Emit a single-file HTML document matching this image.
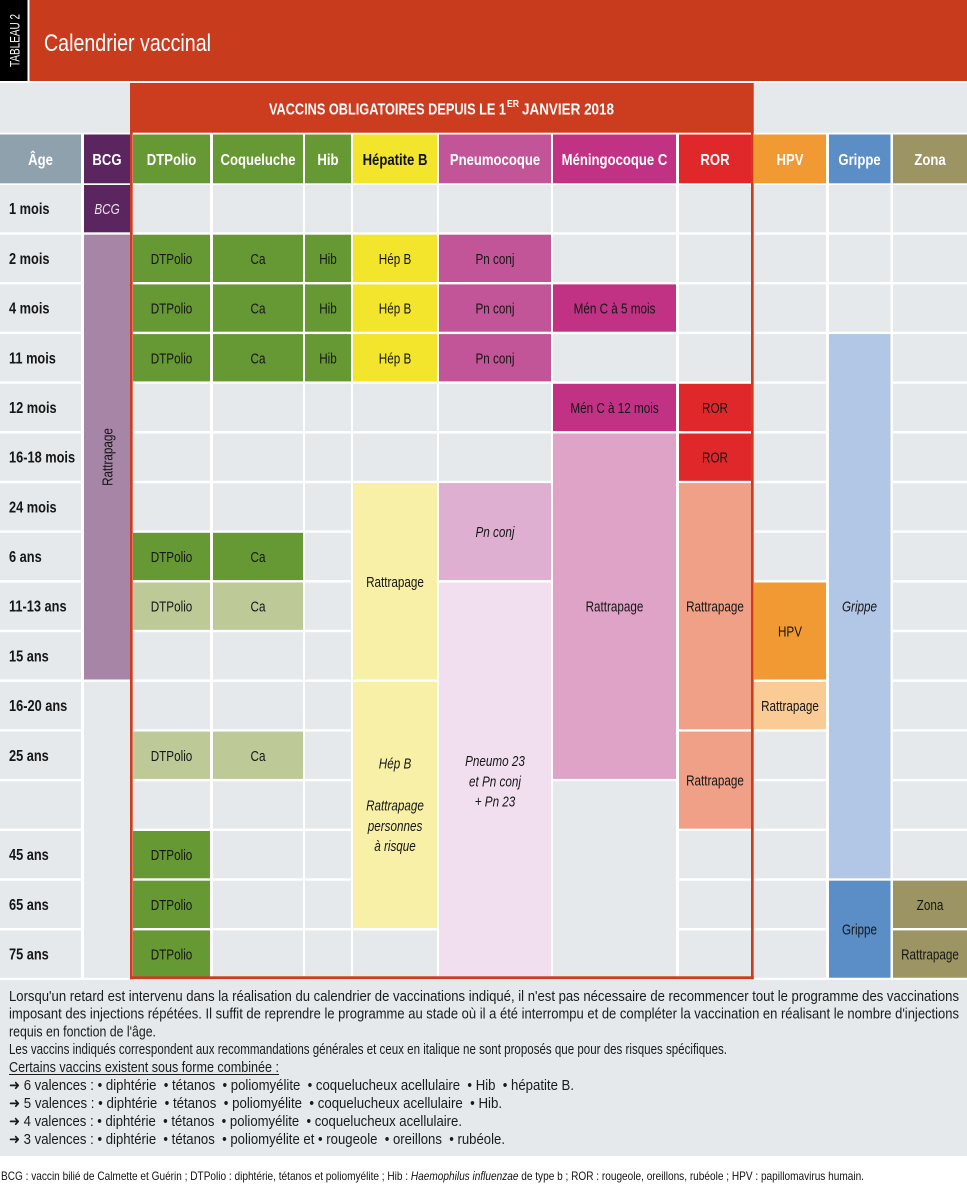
<!DOCTYPE html>
<html><head><meta charset="utf-8"><style>
html,body{margin:0;padding:0;background:#fff;overflow:hidden}
svg{display:block}
.c{font-size:15px;fill:#161616;text-anchor:middle}
.ci{font-size:15px;fill:#161616;text-anchor:middle;font-style:italic}
.h{font-size:16px;font-weight:bold;fill:#fff;text-anchor:middle}
.l{font-size:16px;font-weight:bold;fill:#161616}
.f{font-size:14.5px;fill:#1a1a1a}
.p{white-space:pre}
text{font-family:"Liberation Sans","DejaVu Sans",sans-serif}
</style></head><body>
<svg width="967" height="1190" viewBox="0 0 967 1190" xmlns="http://www.w3.org/2000/svg">
<rect x="0" y="0" width="967" height="1190" fill="#fff"/>
<!-- title -->
<rect x="0" y="0" width="27.5" height="81" fill="#000"/>
<rect x="29.5" y="0" width="937.5" height="81" fill="#c93b1d"/>
<text transform="translate(19.5,67) rotate(-90)" x="0" y="0" font-size="13.5" fill="#fff" textLength="53" lengthAdjust="spacingAndGlyphs">TABLEAU 2</text>
<text x="44" y="51" font-size="24" fill="#fff" textLength="167" lengthAdjust="spacingAndGlyphs">Calendrier vaccinal</text>
<!-- top band -->
<rect x="0" y="83" width="130" height="49.7" fill="#e5e9ec"/>
<rect x="754" y="83" width="213" height="49.7" fill="#e5e9ec"/>
<rect x="130" y="83" width="623.6" height="49.7" fill="#cc3d1f"/>
<text x="269" y="114.5" font-size="16" font-weight="bold" fill="#fff" textLength="237" lengthAdjust="spacingAndGlyphs">VACCINS OBLIGATOIRES DEPUIS LE 1</text>
<text x="507" y="107" font-size="10" font-weight="bold" fill="#fff" textLength="12" lengthAdjust="spacingAndGlyphs">ER</text>
<text x="522" y="114.5" font-size="16" font-weight="bold" fill="#fff" textLength="92" lengthAdjust="spacingAndGlyphs">JANVIER 2018</text>
<!-- header row -->
<rect x="0" y="134.5" width="81" height="48.8" fill="#8fa1ad"/>
<rect x="84" y="134.5" width="46" height="48.8" fill="#5b2560"/>
<rect x="133" y="134.5" width="77" height="48.8" fill="#669834"/>
<rect x="213" y="134.5" width="90" height="48.8" fill="#669834"/>
<rect x="305" y="134.5" width="46" height="48.8" fill="#669834"/>
<rect x="353" y="134.5" width="84" height="48.8" fill="#f2e52c"/>
<rect x="439" y="134.5" width="112" height="48.8" fill="#c25597"/>
<rect x="553" y="134.5" width="123" height="48.8" fill="#c13285"/>
<rect x="679" y="134.5" width="72" height="48.8" fill="#e0282b"/>
<rect x="754" y="134.5" width="72" height="48.8" fill="#f19933"/>
<rect x="829" y="134.5" width="61.5" height="48.8" fill="#5b8dc6"/>
<rect x="893" y="134.5" width="74" height="48.8" fill="#9c9563"/>
<g class="h">
<text transform="translate(40.5,164.8) scale(.82,1)">Âge</text>
<text transform="translate(107,164.8) scale(.82,1)">BCG</text>
<text transform="translate(171.5,164.8) scale(.82,1)">DTPolio</text>
<text transform="translate(258,164.8) scale(.82,1)">Coqueluche</text>
<text transform="translate(328,164.8) scale(.82,1)">Hib</text>
<text transform="translate(395,164.8) scale(.82,1)" style="fill:#111">Hépatite B</text>
<text transform="translate(495,164.8) scale(.82,1)">Pneumocoque</text>
<text transform="translate(614.5,164.8) scale(.82,1)">Méningocoque C</text>
<text transform="translate(715,164.8) scale(.82,1)">ROR</text>
<text transform="translate(790,164.8) scale(.82,1)">HPV</text>
<text transform="translate(859.5,164.8) scale(.82,1)">Grippe</text>
<text transform="translate(930,164.8) scale(.82,1)">Zona</text>
</g>
<!-- gray columns -->
<g fill="#e5e9ec">
<rect x="0" y="185" width="81" height="792.7"/>
<rect x="84" y="185" width="46" height="792.7"/>
<rect x="133" y="185" width="77" height="792.7"/>
<rect x="213" y="185" width="90" height="792.7"/>
<rect x="305" y="185" width="46" height="792.7"/>
<rect x="353" y="185" width="84" height="792.7"/>
<rect x="439" y="185" width="112" height="792.7"/>
<rect x="553" y="185" width="123" height="792.7"/>
<rect x="679" y="185" width="72" height="792.7"/>
<rect x="754" y="185" width="72" height="792.7"/>
<rect x="829" y="185" width="61.5" height="792.7"/>
<rect x="893" y="185" width="74" height="792.7"/>
</g>
<!-- row gaps -->
<g fill="#fff">
<rect x="0" y="232.3" width="967" height="2.4"/>
<rect x="0" y="282.0" width="967" height="2.4"/>
<rect x="0" y="331.7" width="967" height="2.4"/>
<rect x="0" y="381.4" width="967" height="2.4"/>
<rect x="0" y="431.1" width="967" height="2.4"/>
<rect x="0" y="480.8" width="967" height="2.4"/>
<rect x="0" y="530.4" width="967" height="2.4"/>
<rect x="0" y="580.1" width="967" height="2.4"/>
<rect x="0" y="629.8" width="967" height="2.4"/>
<rect x="0" y="679.5" width="967" height="2.4"/>
<rect x="0" y="729.2" width="967" height="2.4"/>
<rect x="0" y="778.9" width="967" height="2.4"/>
<rect x="0" y="828.6" width="967" height="2.4"/>
<rect x="0" y="878.3" width="967" height="2.4"/>
<rect x="0" y="928.0" width="967" height="2.4"/>
</g>
<!-- BCG -->
<rect x="84" y="185" width="46" height="47.3" fill="#5b2560"/>
<rect x="84" y="234.7" width="46" height="444.8" fill="#a785a7"/>
<rect x="84" y="681.9" width="46" height="295.8" fill="#e5e9ec"/>
<!-- DTPolio -->
<g fill="#669834">
<rect x="133" y="234.7" width="77" height="47.3"/>
<rect x="133" y="284.4" width="77" height="47.3"/>
<rect x="133" y="334.1" width="77" height="47.3"/>
<rect x="133" y="532.8" width="77" height="47.3"/>
<rect x="133" y="831.0" width="77" height="47.3"/>
<rect x="133" y="880.7" width="77" height="47.3"/>
<rect x="133" y="930.4" width="77" height="47.3"/>
<rect x="213" y="234.7" width="90" height="47.3"/>
<rect x="213" y="284.4" width="90" height="47.3"/>
<rect x="213" y="334.1" width="90" height="47.3"/>
<rect x="213" y="532.8" width="90" height="47.3"/>
<rect x="305" y="234.7" width="46" height="47.3"/>
<rect x="305" y="284.4" width="46" height="47.3"/>
<rect x="305" y="334.1" width="46" height="47.3"/>
</g>
<g fill="#bdca98">
<rect x="133" y="582.5" width="77" height="47.3"/>
<rect x="133" y="731.6" width="77" height="47.3"/>
<rect x="213" y="582.5" width="90" height="47.3"/>
<rect x="213" y="731.6" width="90" height="47.3"/>
</g>
<!-- Hep B -->
<g fill="#f2e52c">
<rect x="353" y="234.7" width="84" height="47.3"/>
<rect x="353" y="284.4" width="84" height="47.3"/>
<rect x="353" y="334.1" width="84" height="47.3"/>
</g>
<rect x="353" y="483.1" width="84" height="196.4" fill="#f8f0a6"/>
<rect x="353" y="681.9" width="84" height="246.1" fill="#f8f0a6"/>
<!-- Pneumo -->
<g fill="#c25597">
<rect x="439" y="234.7" width="112" height="47.3"/>
<rect x="439" y="284.4" width="112" height="47.3"/>
<rect x="439" y="334.1" width="112" height="47.3"/>
</g>
<rect x="439" y="483.1" width="112" height="97" fill="#dfafd2"/>
<rect x="439" y="582.5" width="112" height="395.2" fill="#f1dff0"/>
<!-- Meningo -->
<rect x="553" y="284.4" width="123" height="47.3" fill="#c13285"/>
<rect x="553" y="383.8" width="123" height="47.3" fill="#c13285"/>
<rect x="553" y="433.5" width="123" height="345.4" fill="#dfa3c7"/>
<rect x="553" y="781.3" width="123" height="196.4" fill="#e5e9ec"/>
<!-- ROR -->
<rect x="679" y="383.8" width="72" height="47.3" fill="#e0282b"/>
<rect x="679" y="433.5" width="72" height="47.3" fill="#e0282b"/>
<rect x="679" y="483.1" width="72" height="246.1" fill="#f0a087"/>
<rect x="679" y="731.6" width="72" height="97" fill="#f0a087"/>
<!-- HPV -->
<rect x="754" y="582.5" width="72" height="97" fill="#f19933"/>
<rect x="754" y="681.9" width="72" height="47.3" fill="#fbcb96"/>
<!-- Grippe -->
<rect x="829" y="334.1" width="61.5" height="544.2" fill="#b2c6e6"/>
<rect x="829" y="880.7" width="61.5" height="97" fill="#5b8dc6"/>
<!-- Zona -->
<rect x="893" y="880.7" width="74" height="47.3" fill="#9c9563"/>
<rect x="893" y="930.4" width="74" height="47.3" fill="#9c9563"/>
<!-- frame -->
<g fill="#cc3d1f">
<rect x="130" y="83" width="2.7" height="896.3"/>
<rect x="751" y="83" width="2.7" height="896.3"/>
<rect x="130" y="976.3" width="623.7" height="2.9"/>
</g>
<!-- row labels -->
<g class="l">
<text transform="translate(9,214.2) scale(.8,1)">1 mois</text>
<text transform="translate(9,263.9) scale(.8,1)">2 mois</text>
<text transform="translate(9,313.6) scale(.8,1)">4 mois</text>
<text transform="translate(9,363.3) scale(.8,1)">11 mois</text>
<text transform="translate(9,413.0) scale(.8,1)">12 mois</text>
<text transform="translate(9,462.7) scale(.8,1)">16-18 mois</text>
<text transform="translate(9,512.3) scale(.8,1)">24 mois</text>
<text transform="translate(9,562.0) scale(.8,1)">6 ans</text>
<text transform="translate(9,611.7) scale(.8,1)">11-13 ans</text>
<text transform="translate(9,661.4) scale(.8,1)">15 ans</text>
<text transform="translate(9,711.1) scale(.8,1)">16-20 ans</text>
<text transform="translate(9,760.8) scale(.8,1)">25 ans</text>
<text transform="translate(9,860.2) scale(.8,1)">45 ans</text>
<text transform="translate(9,909.9) scale(.8,1)">65 ans</text>
<text transform="translate(9,959.6) scale(.8,1)">75 ans</text>
</g>
<!-- cell texts -->
<text class="ci" transform="translate(107,214.2) scale(.78,1)" style="fill:#ece4ee">BCG</text>
<text class="c" transform="translate(112.5,457) rotate(-90) scale(.78,1)">Rattrapage</text>
<g class="c">
<text transform="translate(171.5,263.9) scale(.78,1)">DTPolio</text>
<text transform="translate(171.5,313.6) scale(.78,1)">DTPolio</text>
<text transform="translate(171.5,363.3) scale(.78,1)">DTPolio</text>
<text transform="translate(171.5,562.0) scale(.78,1)">DTPolio</text>
<text transform="translate(171.5,611.7) scale(.78,1)">DTPolio</text>
<text transform="translate(171.5,760.8) scale(.78,1)">DTPolio</text>
<text transform="translate(171.5,860.2) scale(.78,1)">DTPolio</text>
<text transform="translate(171.5,909.9) scale(.78,1)">DTPolio</text>
<text transform="translate(171.5,959.6) scale(.78,1)">DTPolio</text>
<text transform="translate(258,263.9) scale(.78,1)">Ca</text>
<text transform="translate(258,313.6) scale(.78,1)">Ca</text>
<text transform="translate(258,363.3) scale(.78,1)">Ca</text>
<text transform="translate(258,562.0) scale(.78,1)">Ca</text>
<text transform="translate(258,611.7) scale(.78,1)">Ca</text>
<text transform="translate(258,760.8) scale(.78,1)">Ca</text>
<text transform="translate(328,263.9) scale(.78,1)">Hib</text>
<text transform="translate(328,313.6) scale(.78,1)">Hib</text>
<text transform="translate(328,363.3) scale(.78,1)">Hib</text>
<text transform="translate(395,263.9) scale(.78,1)">Hép B</text>
<text transform="translate(395,313.6) scale(.78,1)">Hép B</text>
<text transform="translate(395,363.3) scale(.78,1)">Hép B</text>
<text transform="translate(395,586.8) scale(.78,1)">Rattrapage</text>
<text transform="translate(495,263.9) scale(.78,1)">Pn conj</text>
<text transform="translate(495,313.6) scale(.78,1)">Pn conj</text>
<text transform="translate(495,363.3) scale(.78,1)">Pn conj</text>
<text transform="translate(614.5,313.6) scale(.78,1)">Mén C à 5 mois</text>
<text transform="translate(614.5,413.0) scale(.78,1)">Mén C à 12 mois</text>
<text transform="translate(614.5,611.7) scale(.78,1)">Rattrapage</text>
<text transform="translate(715,413.0) scale(.78,1)">ROR</text>
<text transform="translate(715,462.7) scale(.78,1)">ROR</text>
<text transform="translate(715,611.7) scale(.78,1)">Rattrapage</text>
<text transform="translate(715,785.6) scale(.78,1)">Rattrapage</text>
<text transform="translate(790,636.5) scale(.78,1)">HPV</text>
<text transform="translate(790,711.1) scale(.78,1)">Rattrapage</text>
<text transform="translate(859.5,934.7) scale(.78,1)">Grippe</text>
<text transform="translate(930,909.9) scale(.78,1)">Zona</text>
<text transform="translate(930,959.6) scale(.78,1)">Rattrapage</text>
</g>
<g class="ci">
<text transform="translate(395,768.5) scale(.78,1)">Hép B</text>
<text transform="translate(395,810.5) scale(.78,1)">Rattrapage</text>
<text transform="translate(395,831) scale(.78,1)">personnes</text>
<text transform="translate(395,851) scale(.78,1)">à risque</text>
<text transform="translate(495,537) scale(.78,1)">Pn conj</text>
<text transform="translate(495,766) scale(.78,1)">Pneumo 23</text>
<text transform="translate(495,786.5) scale(.78,1)">et Pn conj</text>
<text transform="translate(495,806.5) scale(.78,1)">+ Pn 23</text>
<text transform="translate(859.5,611.7) scale(.78,1)">Grippe</text>
</g>
<!-- footer -->
<rect x="0" y="980" width="967" height="176" fill="#e5e9ec"/>
<g class="f">
<text x="9" y="1001" textLength="950" lengthAdjust="spacingAndGlyphs">Lorsqu'un retard est intervenu dans la réalisation du calendrier de vaccinations indiqué, il n'est pas nécessaire de recommencer tout le programme des vaccinations</text>
<text x="9" y="1018.6" textLength="950" lengthAdjust="spacingAndGlyphs">imposant des injections répétées. Il suffit de reprendre le programme au stade où il a été interrompu et de compléter la vaccination en réalisant le nombre d'injections</text>
<text x="9" y="1036.3" textLength="147" lengthAdjust="spacingAndGlyphs">requis en fonction de l'âge.</text>
<text x="9" y="1054.2" textLength="718" lengthAdjust="spacingAndGlyphs">Les vaccins indiqués correspondent aux recommandations générales et ceux en italique ne sont proposés que pour des risques spécifiques.</text>
<text x="9" y="1071.9" textLength="270" lengthAdjust="spacingAndGlyphs">Certains vaccins existent sous forme combinée :</text>
<text class="p" x="9" y="1090" textLength="565" lengthAdjust="spacingAndGlyphs">➜ 6 valences : • diphtérie  • tétanos  • poliomyélite  • coquelucheux acellulaire  • Hib  • hépatite B.</text>
<text class="p" x="9" y="1108" textLength="493" lengthAdjust="spacingAndGlyphs">➜ 5 valences : • diphtérie  • tétanos  • poliomyélite  • coquelucheux acellulaire  • Hib.</text>
<text class="p" x="9" y="1125.8" textLength="453" lengthAdjust="spacingAndGlyphs">➜ 4 valences : • diphtérie  • tétanos  • poliomyélite  • coquelucheux acellulaire.</text>
<text class="p" x="9" y="1143.8" textLength="496" lengthAdjust="spacingAndGlyphs">➜ 3 valences : • diphtérie  • tétanos  • poliomyélite et • rougeole  • oreillons  • rubéole.</text>
</g>
<rect x="9" y="1074" width="270" height="1" fill="#1a1a1a"/>
<!-- bottom note -->
<text x="1" y="1180" font-size="12" fill="#111" textLength="863" lengthAdjust="spacingAndGlyphs">BCG : vaccin bilié de Calmette et Guérin ; DTPolio : diphtérie, tétanos et poliomyélite ; Hib : <tspan font-style="italic">Haemophilus influenzae</tspan> de type b ; ROR : rougeole, oreillons, rubéole ; HPV : papillomavirus humain.</text>
</svg>
</body></html>
